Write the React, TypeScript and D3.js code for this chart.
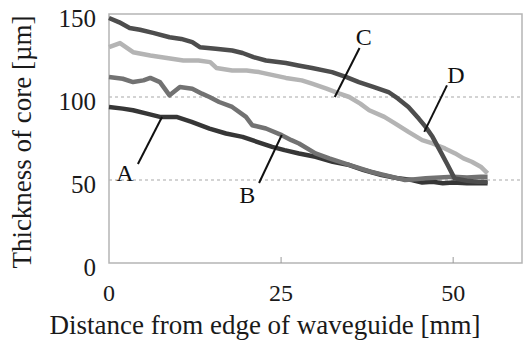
import { useEffect, useRef } from 'react';
import * as d3 from 'd3';

const width = 523;
const height = 340;
const [mt, mr, mb, ml] = [14, 1, 77, 109];

// distance from edge of waveguide [mm] / thickness of core [µm]
const distA = [0, 2, 3.5, 5.5, 7.4, 9.8, 12, 14.6, 17, 19.4, 21.5, 23.7, 25.5, 27.6, 30, 32.5, 34.9, 37, 39.6, 42, 44, 45.5, 47, 48.5, 50, 52, 54, 55];
const thickA = [94, 93, 92, 90, 88, 88, 85, 81, 78, 76, 73, 70, 68, 66, 64, 61, 59, 56, 53, 51, 50, 48.5, 49, 48, 48.5, 48, 48, 48];

const distB = [0, 2, 3.5, 5, 6, 7.4, 8.8, 10.3, 12.1, 13.5, 14.6, 16, 17.9, 19.9, 20.8, 22.8, 25.1, 26.5, 27.6, 30, 32, 35, 38, 41, 43, 44.5, 46, 48, 50, 52, 54, 55];
const thickB = [112, 111, 109, 110, 111.5, 109, 101, 106, 105, 102, 100, 97, 94, 88, 83, 81, 77, 74, 72, 66, 63, 59, 55, 52, 50, 50.5, 51, 51.5, 52, 51.5, 52, 52];

const distC = [0, 1.6, 3.5, 6, 8.4, 10.8, 13, 14.7, 15.6, 17.9, 20, 21.8, 24, 25.7, 28, 29.5, 31.6, 33.5, 34.9, 36.5, 37.8, 40, 41.6, 43.5, 45.5, 47, 48.8, 50.3, 51.5, 52.7, 54, 55];
const thickC = [130, 132.5, 127, 125, 123.5, 122, 122, 121, 117.5, 116, 116, 115, 113, 111.5, 110, 108, 105, 102, 100, 96, 92, 88, 84, 79, 74, 72, 69, 66, 63, 61, 58, 54];

const distD = [0, 1.5, 3, 4.5, 6.4, 8.8, 10.5, 12.1, 13.2, 15.5, 17.9, 19.4, 21, 22.8, 25.7, 27.5, 29.5, 32.4, 34.5, 36.3, 38.5, 40.6, 42, 43.5, 45, 46, 47, 48.3, 49.2, 50.2, 52, 53.5, 55];
const thickD = [147.6, 145, 141.6, 140.5, 138.6, 136, 135, 133, 130, 129, 128, 126.5, 124, 122, 120.5, 119, 117.5, 115, 112, 109, 106, 103, 99, 94, 87, 82, 76, 66, 59, 51, 49.5, 49, 49];

const seriesNames = ['A', 'B', 'C', 'D'];
const seriesColors = ['#363636', '#727272', '#b4b4b4', '#4d4d4d'];

// label position, leader start, leader end (mm, µm)
const labelPos = [[2.3, 54], [20.1, 41], [37, 136], [50.4, 113]];
const leaderFrom = [[4.2, 59.6], [21.8, 48.2], [36.4, 129.5], [49.1, 107]];
const leaderTo = [[7.7, 88], [25.1, 77.1], [32.8, 100], [45.8, 79]];

const xTicks = [0, 25, 50];
const yTicks = [0, 50, 100, 150];
const gridValues = [50, 100];

function App() {
    const ref = useRef<SVGSVGElement>(null);

    useEffect(() => {
        const svg = d3.select(ref.current);
        svg.selectAll('*').remove();

        const x = d3.scaleLinear().domain([0, 60]).range([ml, width - mr]);
        const y = d3.scaleLinear().domain([0, 150]).range([height - mb, mt]);

        const font = '"Liberation Serif", "Times New Roman", serif';

        // dashed gridlines
        svg.append('g')
            .selectAll('line')
            .data(gridValues)
            .join('line')
            .attr('x1', x(0))
            .attr('x2', x(60))
            .attr('y1', (d) => y(d))
            .attr('y2', (d) => y(d))
            .attr('stroke', '#a8a8a8')
            .attr('stroke-width', 1.2)
            .attr('stroke-dasharray', '3,3');

        // plot border
        svg.append('rect')
            .attr('x', x(0))
            .attr('y', y(150))
            .attr('width', x(60) - x(0))
            .attr('height', y(0) - y(150))
            .attr('fill', 'none')
            .attr('stroke', '#b5b5b5')
            .attr('stroke-width', 1.5);

        // x ticks (inward)
        svg.append('g')
            .selectAll('line')
            .data(xTicks.slice(1))
            .join('line')
            .attr('x1', (d) => x(d))
            .attr('x2', (d) => x(d))
            .attr('y1', y(0))
            .attr('y2', y(0) - 6)
            .attr('stroke', '#999');

        const seriesX = [distA, distB, distC, distD];
        const seriesY = [thickA, thickB, thickC, thickD];
        const line = d3
            .line<[number, number]>()
            .x((d) => x(d[0]))
            .y((d) => y(d[1]))
            .curve(d3.curveLinear);

        svg.append('g')
            .selectAll('path')
            .data(seriesNames)
            .join('path')
            .attr('d', (_, i) => line(seriesX[i].map((v, j) => [v, seriesY[i][j]] as [number, number])))
            .attr('fill', 'none')
            .attr('stroke', (_, i) => seriesColors[i])
            .attr('stroke-width', 4.5)
            .attr('stroke-linejoin', 'round');

        // leaders + labels
        svg.append('g')
            .selectAll('line')
            .data(seriesNames)
            .join('line')
            .attr('x1', (_, i) => x(leaderFrom[i][0]))
            .attr('y1', (_, i) => y(leaderFrom[i][1]))
            .attr('x2', (_, i) => x(leaderTo[i][0]))
            .attr('y2', (_, i) => y(leaderTo[i][1]))
            .attr('stroke', '#111')
            .attr('stroke-width', 2);

        svg.append('g')
            .selectAll('text')
            .data(seriesNames)
            .join('text')
            .attr('x', (_, i) => x(labelPos[i][0]))
            .attr('y', (_, i) => y(labelPos[i][1]))
            .attr('text-anchor', 'middle')
            .attr('dominant-baseline', 'central')
            .attr('font-family', font)
            .attr('font-size', 24)
            .attr('fill', '#111')
            .text((d) => d);

        // tick labels
        svg.append('g')
            .selectAll('text')
            .data(yTicks)
            .join('text')
            .attr('x', ml - 13)
            .attr('y', (d) => y(d) + 4)
            .attr('text-anchor', 'end')
            .attr('dominant-baseline', 'central')
            .attr('font-family', font)
            .attr('font-size', 25)
            .attr('fill', '#1a1a1a')
            .text((d) => d);

        svg.append('g')
            .selectAll('text')
            .data(xTicks)
            .join('text')
            .attr('x', (d) => x(d))
            .attr('y', 293)
            .attr('text-anchor', 'middle')
            .attr('dominant-baseline', 'central')
            .attr('font-family', font)
            .attr('font-size', 24)
            .attr('fill', '#1a1a1a')
            .text((d) => d);

        // axis titles
        svg.append('text')
            .attr('x', 265)
            .attr('y', 325)
            .attr('text-anchor', 'middle')
            .attr('dominant-baseline', 'central')
            .attr('font-family', font)
            .attr('font-size', 27)
            .attr('fill', '#1a1a1a')
            .text('Distance from edge of waveguide [mm]');

        svg.append('text')
            .attr('transform', 'translate(22,142) rotate(-90)')
            .attr('text-anchor', 'middle')
            .attr('dominant-baseline', 'central')
            .attr('font-family', font)
            .attr('font-size', 27)
            .attr('fill', '#1a1a1a')
            .text('Thickness of core [µm]');
    }, []);

    return (
        <svg
            ref={ref}
            width={width}
            height={height}
            style={{ position: 'absolute', left: 0, top: 0, background: '#fff' }}
        />
    );
}

export default App;
